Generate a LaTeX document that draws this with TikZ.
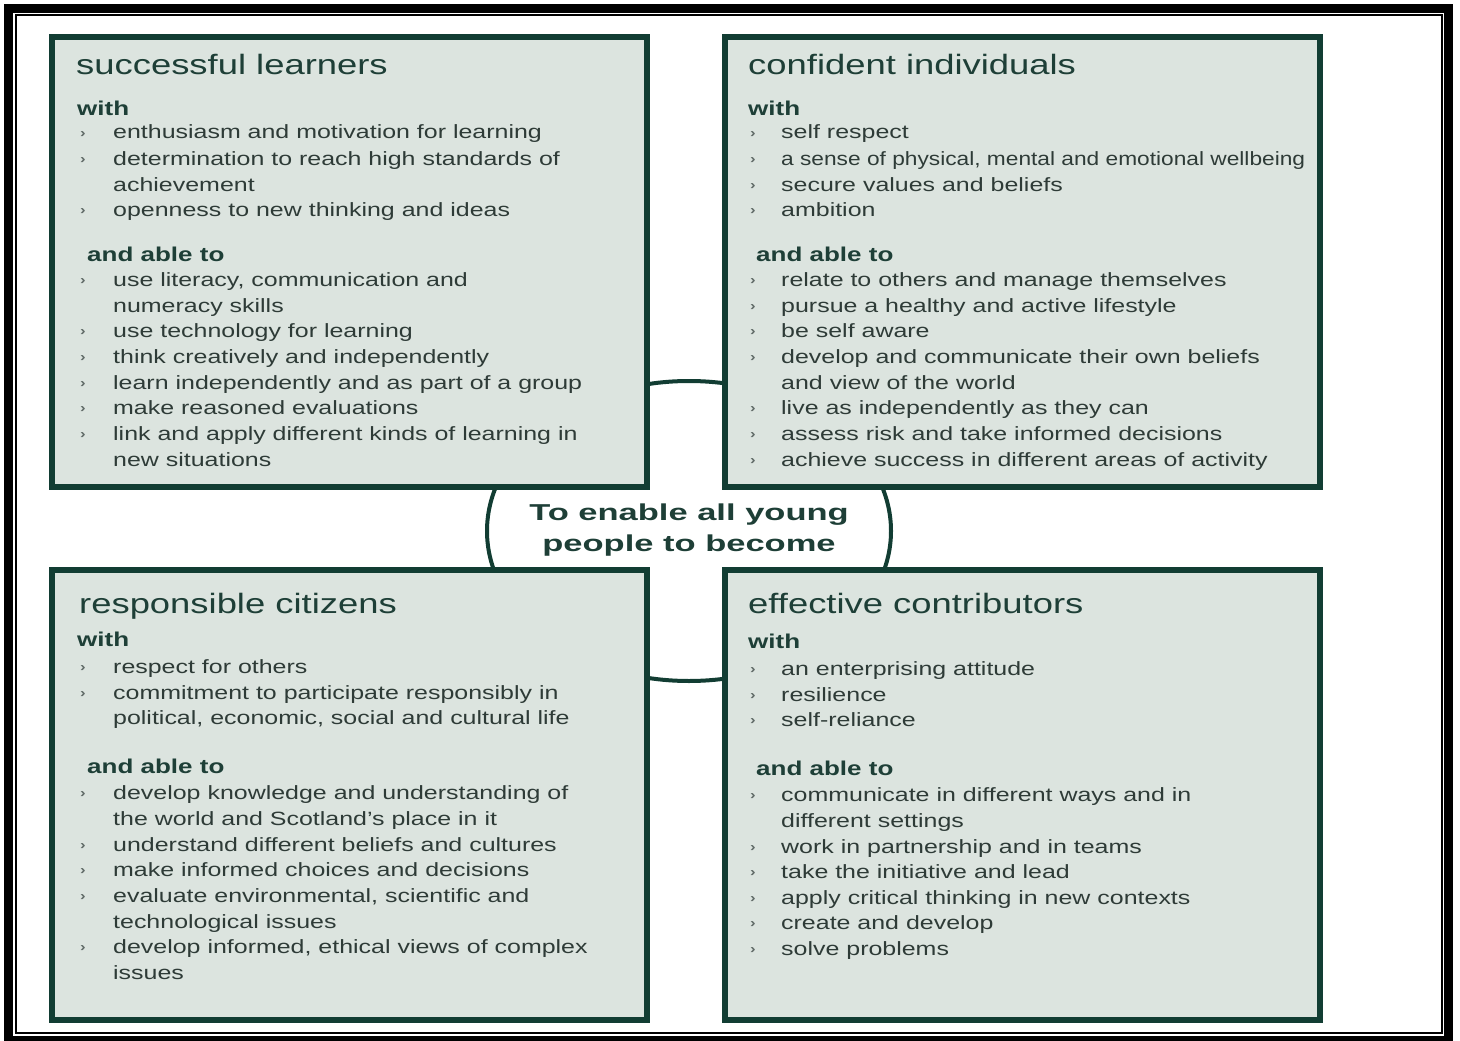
\documentclass[tikz,border=0pt]{standalone}
\usepackage{fontspec}
\setmainfont{Liberation Sans}[FakeStretch=1.3]
\newfontfamily\ringfont{Liberation Sans}[FakeStretch=1.5]
\usetikzlibrary{shapes.geometric}
\definecolor{boxline}{HTML}{123D33}
\definecolor{boxfill}{HTML}{DCE4DF}
\definecolor{headtext}{HTML}{1E3F37}
\definecolor{bodytext}{HTML}{2E3B37}

\begin{document}
\begin{tikzpicture}[x=1pt, y=-1pt,
  panel/.style={draw=boxline, fill=boxfill, line width=5.5pt, minimum width=595pt, minimum height=450pt, inner sep=0pt},
  ring/.style={ellipse, draw=boxline, line width=4pt, minimum width=404pt, minimum height=300pt, inner sep=0pt},
  aimtext/.style={align=center, inner sep=0pt, text=headtext, font=\ringfont\bfseries\fontsize{23}{31}\selectfont},
  heading/.style={anchor=base west, inner sep=0pt, text=headtext, font=\fontsize{28}{32}\selectfont},
  lead/.style={anchor=base west, inner sep=0pt, text=headtext, font=\bfseries\fontsize{20}{24}\selectfont},
  entry/.style={anchor=base west, inner sep=0pt, text=bodytext, font=\fontsize{19.2}{22}\selectfont},
  pointer/.style={anchor=base west, inner sep=0pt, text=bodytext!75, font=\bfseries\fontsize{13}{14}\selectfont}]
  \useasboundingbox (0,0) rectangle (1460,1041);
  % page frame
  \draw[line width=9pt] (8.5,8.5) rectangle (1448.5,1040.5);
  \draw[line width=2pt] (15.5,15) rectangle (1442,1032.5);
  % ring behind the panels
  \node[ring] (aim) at (689,531) {};
  \node[aimtext, yshift=1pt] (aimtxt) at (aim) {To enable all young\\people to become};
  % panels
  \node[panel] (sl) at (349.5,262) {};
  \node[panel] (ci) at (1022.5,262) {};
  \node[panel] (rc) at (349.5,795) {};
  \node[panel] (ec) at (1022.5,795) {};

  % successful learners
  \node[heading] (sl-h) at (76,75) {successful learners};
  \node[lead] (sl-w) at (77,115) {with};
  \node[lead] (sl-a) at (87,261) {and able to};
  \foreach \y/\b/\t [count=\i] in {139/1/{enthusiasm and motivation for learning},
      165/1/{determination to reach high standards of}, 191/0/{achievement},
      216/1/{openness to new thinking and ideas}, 286/1/{use literacy, communication and},
      312/0/{numeracy skills}, 337/1/{use technology for learning},
      363/1/{think creatively and independently}, 389/1/{learn independently and as part of a group},
      414/1/{make reasoned evaluations}, 440/1/{link and apply different kinds of learning in},
      466/0/{new situations}}
  {
    \ifnum\b=1 \node[pointer] (sl-p\i) at (80,\y-2) {›}; \fi
    \node[entry] (sl-\i) at (113,\y) {\t};
  }

  % confident individuals
  \node[heading] (ci-h) at (748,75) {confident individuals};
  \node[lead] (ci-w) at (748,115) {with};
  \node[lead] (ci-a) at (756,261) {and able to};
  \foreach \y/\b/\t [count=\i] in {139/1/{self respect},
      165/1/{\scalebox{0.91}[1]{a sense of physical, mental and emotional wellbeing}},
      191/1/{secure values and beliefs}, 216/1/{ambition},
      286/1/{relate to others and manage themselves}, 312/1/{pursue a healthy and active lifestyle},
      337/1/{be self aware}, 363/1/{develop and communicate their own beliefs},
      389/0/{and view of the world}, 414/1/{live as independently as they can},
      440/1/{assess risk and take informed decisions},
      466/1/{achieve success in different areas of activity}}
  {
    \ifnum\b=1 \node[pointer] (ci-p\i) at (750,\y-2) {›}; \fi
    \node[entry] (ci-\i) at (781,\y) {\t};
  }

  % responsible citizens
  \node[heading] (rc-h) at (79,613) {responsible citizens};
  \node[lead] (rc-w) at (77,646) {with};
  \node[lead] (rc-a) at (87,773) {and able to};
  \foreach \y/\b/\t [count=\i] in {673/1/{respect for others},
      699/1/{commitment to participate responsibly in},
      724/0/{political, economic, social and cultural life},
      799/1/{develop knowledge and understanding of}, 825/0/{the world and Scotland’s place in it},
      851/1/{understand different beliefs and cultures}, 876/1/{make informed choices and decisions},
      902/1/{evaluate environmental, scientific and}, 928/0/{technological issues},
      953/1/{develop informed, ethical views of complex}, 979/0/{issues}}
  {
    \ifnum\b=1 \node[pointer] (rc-p\i) at (80,\y-2) {›}; \fi
    \node[entry] (rc-\i) at (113,\y) {\t};
  }

  % effective contributors
  \node[heading] (ec-h) at (748,613) {effective contributors};
  \node[lead] (ec-w) at (748,648) {with};
  \node[lead] (ec-a) at (756,775) {and able to};
  \foreach \y/\b/\t [count=\i] in {675/1/{an enterprising attitude}, 701/1/{resilience},
      726/1/{self-reliance}, 801/1/{communicate in different ways and in},
      827/0/{different settings}, 853/1/{work in partnership and in teams},
      878/1/{take the initiative and lead}, 904/1/{apply critical thinking in new contexts},
      929/1/{create and develop}, 955/1/{solve problems}}
  {
    \ifnum\b=1 \node[pointer] (ec-p\i) at (750,\y-2) {›}; \fi
    \node[entry] (ec-\i) at (781,\y) {\t};
  }
\end{tikzpicture}
\end{document}
